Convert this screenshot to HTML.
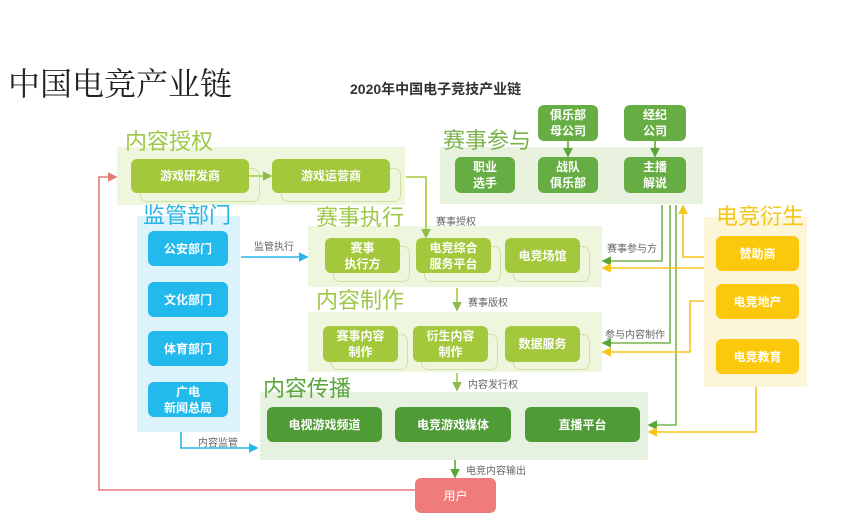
<!DOCTYPE html>
<html><head><meta charset="utf-8"><style>
body{margin:0;width:860px;height:519px;background:#fff;position:relative;overflow:hidden;font-family:"Liberation Sans","Noto Sans CJK SC",sans-serif}
.a{position:absolute}
.p{position:absolute}
.b{position:absolute;border-radius:6px;color:#fff;font-weight:bold;font-size:12px;display:flex;align-items:center;justify-content:center;text-align:center;line-height:16px}
.s{position:absolute;border:1.5px solid #cfe2a4;border-radius:7px}
.lg{background:#a3c83c}.mg{background:#66ad43}.dg{background:#4f9b36}.bl{background:#22b9ec}.ye{background:#fbc80c}
.lab{position:absolute;font-size:22px;white-space:nowrap;line-height:24px}
.t{position:absolute;font-size:10px;color:#666;white-space:nowrap}
</style></head><body>
<div class="a" style="left:8px;top:62px;font-size:32px;color:#222;font-family:'Noto Serif CJK SC',serif;line-height:40px">中国电竞产业链</div>
<div class="a" style="left:350px;top:79px;font-size:14px;font-weight:bold;color:#333">2020年中国电子竞技产业链</div>

<div class="p" style="left:117px;top:147px;width:288px;height:58px;background:#eff6de"></div>
<div class="p" style="left:440px;top:147px;width:263px;height:57px;background:#e8f2df"></div>
<div class="p" style="left:137px;top:216px;width:103px;height:216px;background:#ddf3fb"></div>
<div class="p" style="left:308px;top:226px;width:294px;height:61px;background:#eff6de"></div>
<div class="p" style="left:308px;top:312px;width:294px;height:60px;background:#eff6de"></div>
<div class="p" style="left:260px;top:392px;width:388px;height:68px;background:#e6f1df"></div>
<div class="p" style="left:704px;top:217px;width:103px;height:170px;background:#fdf5d8"></div>

<div class="lab" style="left:125px;top:130px;color:#9dc84a">内容授权</div>
<div class="lab" style="left:443px;top:129px;color:#7ab24e">赛事参与</div>
<div class="lab" style="left:143px;top:204px;color:#27b4e6">监管部门</div>
<div class="lab" style="left:316px;top:206px;color:#9dc84a">赛事执行</div>
<div class="lab" style="left:316px;top:289px;color:#9dc84a">内容制作</div>
<div class="lab" style="left:263px;top:377px;color:#5aa63b">内容传播</div>
<div class="lab" style="left:716px;top:205px;color:#f5c518">电竞衍生</div>

<div class="s" style="left:140px;top:168px;width:118px;height:32px"></div>
<div class="s" style="left:281px;top:168px;width:118px;height:32px"></div>
<div class="b lg" style="left:131px;top:159px;width:118px;height:34px">游戏研发商</div>
<div class="b lg" style="left:272px;top:159px;width:118px;height:34px">游戏运营商</div>

<div class="b mg" style="left:538px;top:105px;width:60px;height:36px">俱乐部<br>母公司</div>
<div class="b mg" style="left:624px;top:105px;width:62px;height:36px">经纪<br>公司</div>
<div class="b mg" style="left:455px;top:157px;width:60px;height:36px">职业<br>选手</div>
<div class="b mg" style="left:538px;top:157px;width:60px;height:36px">战队<br>俱乐部</div>
<div class="b mg" style="left:624px;top:157px;width:62px;height:36px">主播<br>解说</div>

<div class="b bl" style="left:148px;top:231px;width:80px;height:35px">公安部门</div>
<div class="b bl" style="left:148px;top:282px;width:80px;height:35px">文化部门</div>
<div class="b bl" style="left:148px;top:331px;width:80px;height:35px">体育部门</div>
<div class="b bl" style="left:148px;top:382px;width:80px;height:35px">广电<br>新闻总局</div>

<div class="s" style="left:333px;top:246px;width:75px;height:34px"></div>
<div class="s" style="left:424px;top:246px;width:75px;height:34px"></div>
<div class="s" style="left:513px;top:246px;width:75px;height:34px"></div>
<div class="b lg" style="left:325px;top:238px;width:75px;height:35px">赛事<br>执行方</div>
<div class="b lg" style="left:416px;top:238px;width:75px;height:35px">电竞综合<br>服务平台</div>
<div class="b lg" style="left:505px;top:238px;width:75px;height:35px">电竞场馆</div>

<div class="s" style="left:331px;top:334px;width:75px;height:34px"></div>
<div class="s" style="left:421px;top:334px;width:75px;height:34px"></div>
<div class="s" style="left:513px;top:334px;width:75px;height:34px"></div>
<div class="b lg" style="left:323px;top:326px;width:75px;height:36px">赛事内容<br>制作</div>
<div class="b lg" style="left:413px;top:326px;width:75px;height:36px">衍生内容<br>制作</div>
<div class="b lg" style="left:505px;top:326px;width:75px;height:36px">数据服务</div>

<div class="b dg" style="left:267px;top:407px;width:115px;height:35px">电视游戏频道</div>
<div class="b dg" style="left:395px;top:407px;width:116px;height:35px">电竞游戏媒体</div>
<div class="b dg" style="left:525px;top:407px;width:115px;height:35px">直播平台</div>

<div class="b ye" style="left:716px;top:236px;width:83px;height:35px">赞助商</div>
<div class="b ye" style="left:716px;top:284px;width:83px;height:35px">电竞地产</div>
<div class="b ye" style="left:716px;top:339px;width:83px;height:35px">电竞教育</div>

<div class="b" style="left:415px;top:478px;width:81px;height:35px;background:#f07b7b;font-weight:normal">用户</div>

<svg class="a" style="left:0;top:0" width="860" height="519">
<defs>
<marker id="g" markerWidth="6" markerHeight="6" refX="5" refY="3" orient="auto"><path d="M0,0L6,3L0,6z" fill="#8dba4c"/></marker>
<marker id="dg" markerWidth="6" markerHeight="6" refX="5" refY="3" orient="auto"><path d="M0,0L6,3L0,6z" fill="#5aa63b"/></marker>
<marker id="y" markerWidth="6" markerHeight="6" refX="5" refY="3" orient="auto"><path d="M0,0L6,3L0,6z" fill="#f5c518"/></marker>
<marker id="b" markerWidth="6" markerHeight="6" refX="5" refY="3" orient="auto"><path d="M0,0L6,3L0,6z" fill="#27b4e6"/></marker>
<marker id="r" markerWidth="6" markerHeight="6" refX="5" refY="3" orient="auto"><path d="M0,0L6,3L0,6z" fill="#e57a7a"/></marker>
</defs>
<g fill="none" stroke-width="1.6">
<path d="M249,176H271" stroke="#a3c83c" marker-end="url(#g)"/>
<path d="M406,177H426V237" stroke="#a3c83c" marker-end="url(#g)"/>
<path d="M457,288V310" stroke="#a3c83c" marker-end="url(#g)"/>
<path d="M457,373V390" stroke="#a3c83c" marker-end="url(#g)"/>
<path d="M455,460V477" stroke="#5aa63b" marker-end="url(#dg)"/>
<path d="M568,141V156" stroke="#5aa63b" marker-end="url(#dg)"/>
<path d="M655,141V156" stroke="#5aa63b" marker-end="url(#dg)"/>
<path d="M662,205V261H603" stroke="#7ab24e" marker-end="url(#dg)"/>
<path d="M670,205V343H603" stroke="#7ab24e" marker-end="url(#dg)"/>
<path d="M676,205V425H649" stroke="#7ab24e" marker-end="url(#dg)"/>
<path d="M704,257H683V206" stroke="#f5c518" marker-end="url(#y)"/>
<path d="M704,268H603" stroke="#f5c518" marker-end="url(#y)"/>
<path d="M704,301H690V352H603" stroke="#f5c518" marker-end="url(#y)"/>
<path d="M756,387V432H649" stroke="#f5c518" marker-end="url(#y)"/>
<path d="M241,257H307" stroke="#27b4e6" marker-end="url(#b)"/>
<path d="M181,432V448H257" stroke="#27b4e6" marker-end="url(#b)"/>
<path d="M415,490H99V177H116" stroke="#e57a7a" marker-end="url(#r)"/>
</g>
</svg>
<div class="t" style="left:254px;top:238px">监管执行</div>
<div class="t" style="left:436px;top:213px">赛事授权</div>
<div class="t" style="left:468px;top:294px">赛事版权</div>
<div class="t" style="left:468px;top:376px">内容发行权</div>
<div class="t" style="left:466px;top:462px">电竞内容输出</div>
<div class="t" style="left:607px;top:240px">赛事参与方</div>
<div class="t" style="left:605px;top:326px">参与内容制作</div>
<div class="t" style="left:198px;top:434px">内容监管</div>
</body></html>
